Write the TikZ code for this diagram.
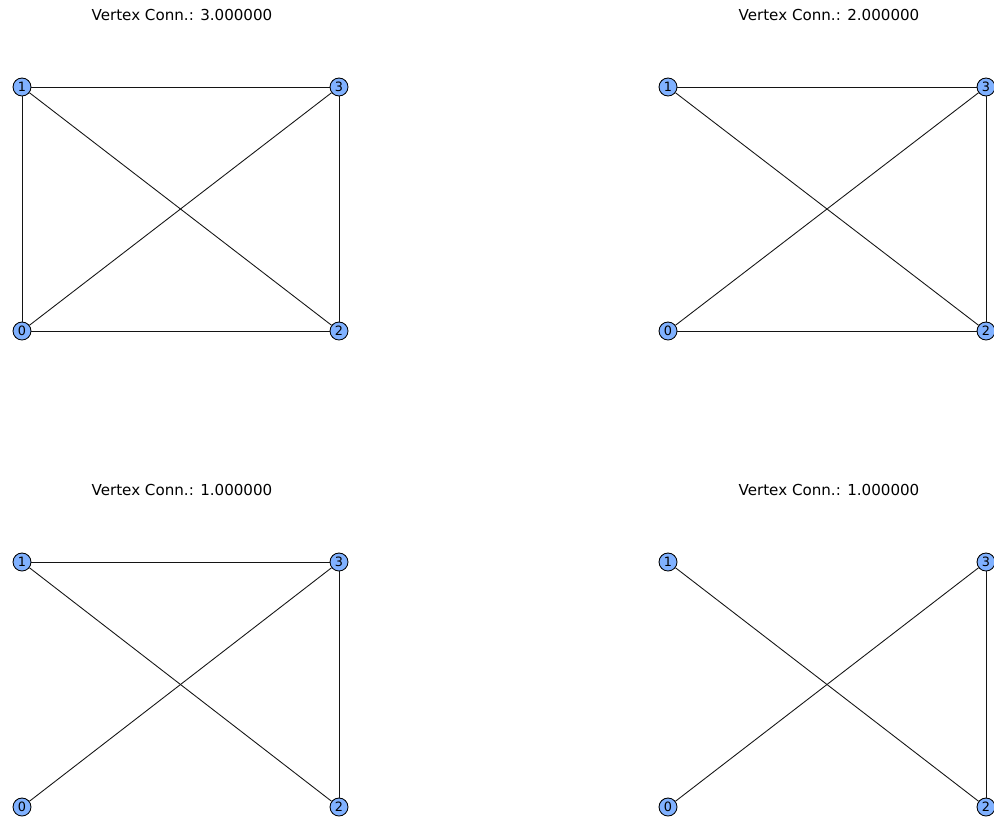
\documentclass[tikz,border=0pt]{standalone}
\usepackage{fontspec}
\setmainfont{DejaVu Sans}
\usepackage{xcolor}
\usepackage{tikz}
\usetikzlibrary{positioning}
\definecolor{vtxblue}{RGB}{128,177,255}
\definecolor{edgedark}{RGB}{20,20,20}
\tikzset{
  vtx/.style={circle, draw=black, fill=vtxblue, minimum size=0.36cm,
    inner sep=0pt, font=\fontsize{7.3}{8}\selectfont, line width=0.5pt},
  edge/.style={color=edgedark, line width=0.5pt},
  ttl/.style={font=\fontsize{8.6}{10}\selectfont, inner sep=0pt}
}
\begin{document}
\begin{tikzpicture}[x=0.02cm, y=-0.02cm]
  \useasboundingbox (0,0) rectangle (994,818);
  \clip (0,0) rectangle (994,818);

  % panel a
  \node[ttl] (ta) at (182,15) {Vertex Conn.: 3.000000};
  \node[vtx] (a0) at (22,331) {0};
  \node[vtx] (a1) at (22,87) {1};
  \node[vtx] (a2) at (339,331) {2};
  \node[vtx] (a3) at (339,87) {3};

  % panel b
  \node[ttl] (tb) at (829,15) {Vertex Conn.: 2.000000};
  \node[vtx] (b0) at (668,331) {0};
  \node[vtx] (b1) at (668,87) {1};
  \node[vtx] (b2) at (986,331) {2};
  \node[vtx] (b3) at (986,87) {3};

  % panel c
  \node[ttl] (tc) at (182,490) {Vertex Conn.: 1.000000};
  \node[vtx] (c0) at (22,807) {0};
  \node[vtx] (c1) at (22,562) {1};
  \node[vtx] (c2) at (339,807) {2};
  \node[vtx] (c3) at (339,562) {3};

  % panel d
  \node[ttl] (td) at (829,490) {Vertex Conn.: 1.000000};
  \node[vtx] (d0) at (668,807) {0};
  \node[vtx] (d1) at (668,562) {1};
  \node[vtx] (d2) at (986,807) {2};
  \node[vtx] (d3) at (986,562) {3};

  \draw[edge] (a0) -- (a1);
  \draw[edge] (a0) -- (a2);
  \draw[edge] (a0) -- (a3);
  \draw[edge] (a1) -- (a2);
  \draw[edge] (a1) -- (a3);
  \draw[edge] (a2) -- (a3);

  \draw[edge] (b0) -- (b2);
  \draw[edge] (b0) -- (b3);
  \draw[edge] (b1) -- (b2);
  \draw[edge] (b1) -- (b3);
  \draw[edge] (b2) -- (b3);

  \draw[edge] (c0) -- (c3);
  \draw[edge] (c1) -- (c2);
  \draw[edge] (c1) -- (c3);
  \draw[edge] (c2) -- (c3);

  \draw[edge] (d0) -- (d3);
  \draw[edge] (d1) -- (d2);
  \draw[edge] (d2) -- (d3);
\end{tikzpicture}
\end{document}
